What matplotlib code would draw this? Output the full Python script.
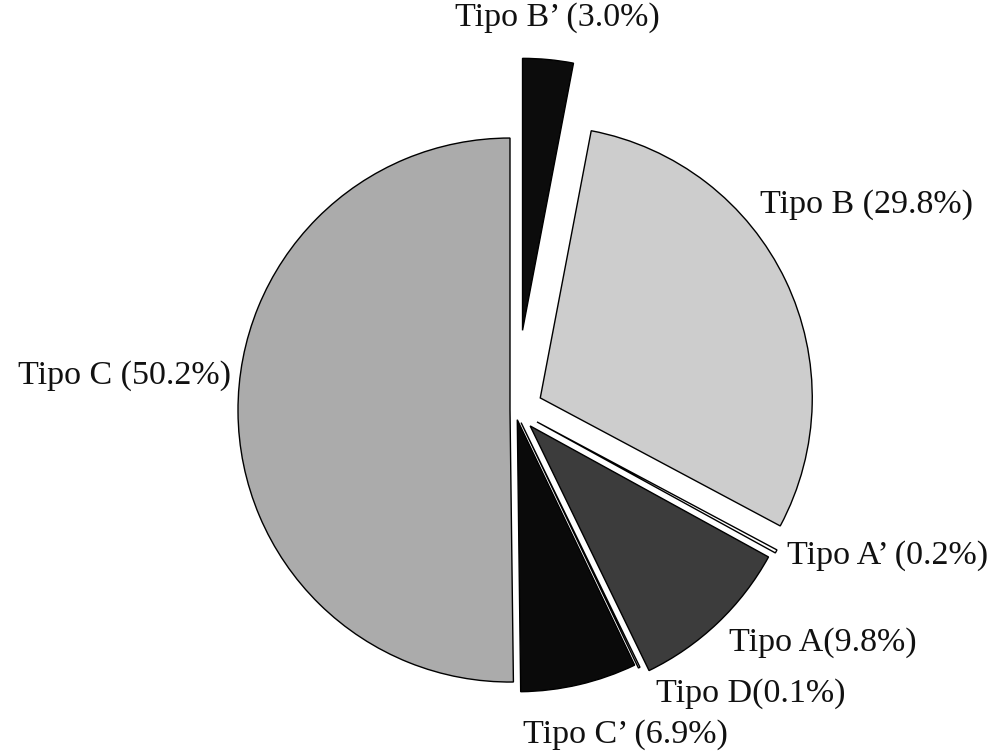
import matplotlib
matplotlib.use("Agg")
import matplotlib.pyplot as plt

# Shares of each type, clockwise from twelve o'clock
labels = ["Tipo B’ (3.0%)", "Tipo B (29.8%)", "Tipo A’ (0.2%)", "Tipo A(9.8%)",
          "Tipo D(0.1%)", "Tipo C’ (6.9%)", "Tipo C (50.2%)"]
shares = [3.0, 29.8, 0.2, 9.8, 0.1, 6.9, 50.2]

colors = ["#0c0c0c", "#cdcdcd", "#ffffff", "#3c3c3c", "#ffffff", "#0a0a0a", "#ababab"]
# radial offset of each wedge, in pixels
explode = [80, 28, 25, 22, 14, 10, 5]

W, H = 988, 754
fig = plt.figure(figsize=(W / 100, H / 100), dpi=100)
ax = fig.add_axes([0, 0, 1, 1])

cx, cy, r = 515, H - 410, 272
ax.pie(shares, colors=colors, explode=explode, startangle=90, counterclock=False,
       center=(cx, cy), radius=r, frame=True,
       wedgeprops=dict(edgecolor="black", linewidth=1.0))
ax.set_xlim(0, W)
ax.set_ylim(0, H)
ax.set_aspect("equal")
ax.axis("off")

font = dict(family=["Liberation Serif", "DejaVu Serif"], fontsize=24.5, color="#111111")
# label anchors (x, y from top, horizontal alignment)
spots = [(557, 18, "center"), (760, 205, "left"), (787, 556, "left"),
         (729, 643, "left"), (656, 694, "left"), (625, 735, "center"),
         (18, 376, "left")]
for text, (x, y, ha) in zip(labels, spots):
    ax.text(x, H - y, text, ha=ha, va="center", **font)

fig.savefig("out.png", dpi=100, facecolor="white")
